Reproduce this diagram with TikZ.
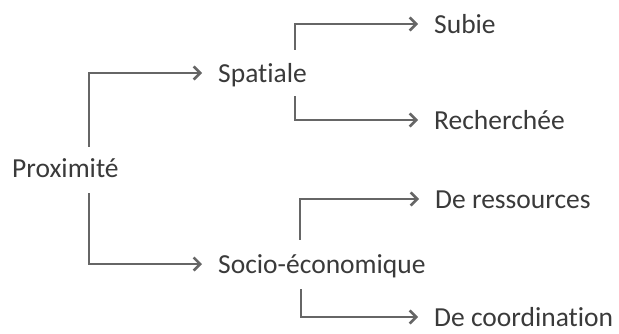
\documentclass[tikz,border=0pt]{standalone}
\usepackage{fontspec}
\setmainfont{Carlito}[Ligatures=CommonOff]
\usetikzlibrary{arrows.meta}
\definecolor{txt}{HTML}{3A3A3A}
\definecolor{ln}{HTML}{666666}
\begin{document}
\begin{tikzpicture}[x=1pt,y=1pt,
  lbl/.style={anchor=base west,inner sep=0pt,text height=18pt,text depth=0pt,
    font=\fontsize{27.5}{32}\selectfont,text=txt},
  arr/.style={draw=ln,line width=2.8pt,-{Straight Barb[length=6.5pt,width=13pt,line width=2.6pt]}}]
\useasboundingbox (0,0) rectangle (619,333);
\node[lbl] (prox) at (12,156) {Proximité};
\node[lbl] (spat) at (218,251) {Spatiale};
\node[lbl] (socio) at (218,60) {Socio-économique};
\node[lbl] (subie) at (434,300) {Subie};
\node[lbl] (rech) at (434,204) {Recherchée};
\node[lbl] (ress) at (435,125) {De ressources};
\node[lbl] (coord) at (434,7) {De coordination};
\draw[arr] ([xshift=77pt,yshift=12pt]prox.north west) |- ([xshift=-16pt]spat.west);
\draw[arr] ([xshift=77pt,yshift=-16pt]prox.south west) |- ([xshift=-16pt]socio.west);
\draw[arr] ([xshift=77pt,yshift=14pt]spat.north west) |- ([xshift=-16pt]subie.west);
\draw[arr] ([xshift=77pt,yshift=-14pt]spat.south west) |- ([xshift=-16pt]rech.west);
\draw[arr] ([xshift=82pt,yshift=15pt]socio.north west) |- ([xshift=-16pt]ress.west);
\draw[arr] ([xshift=83pt,yshift=-16pt]socio.south west) |- ([xshift=-16pt]coord.west);
\end{tikzpicture}
\end{document}
